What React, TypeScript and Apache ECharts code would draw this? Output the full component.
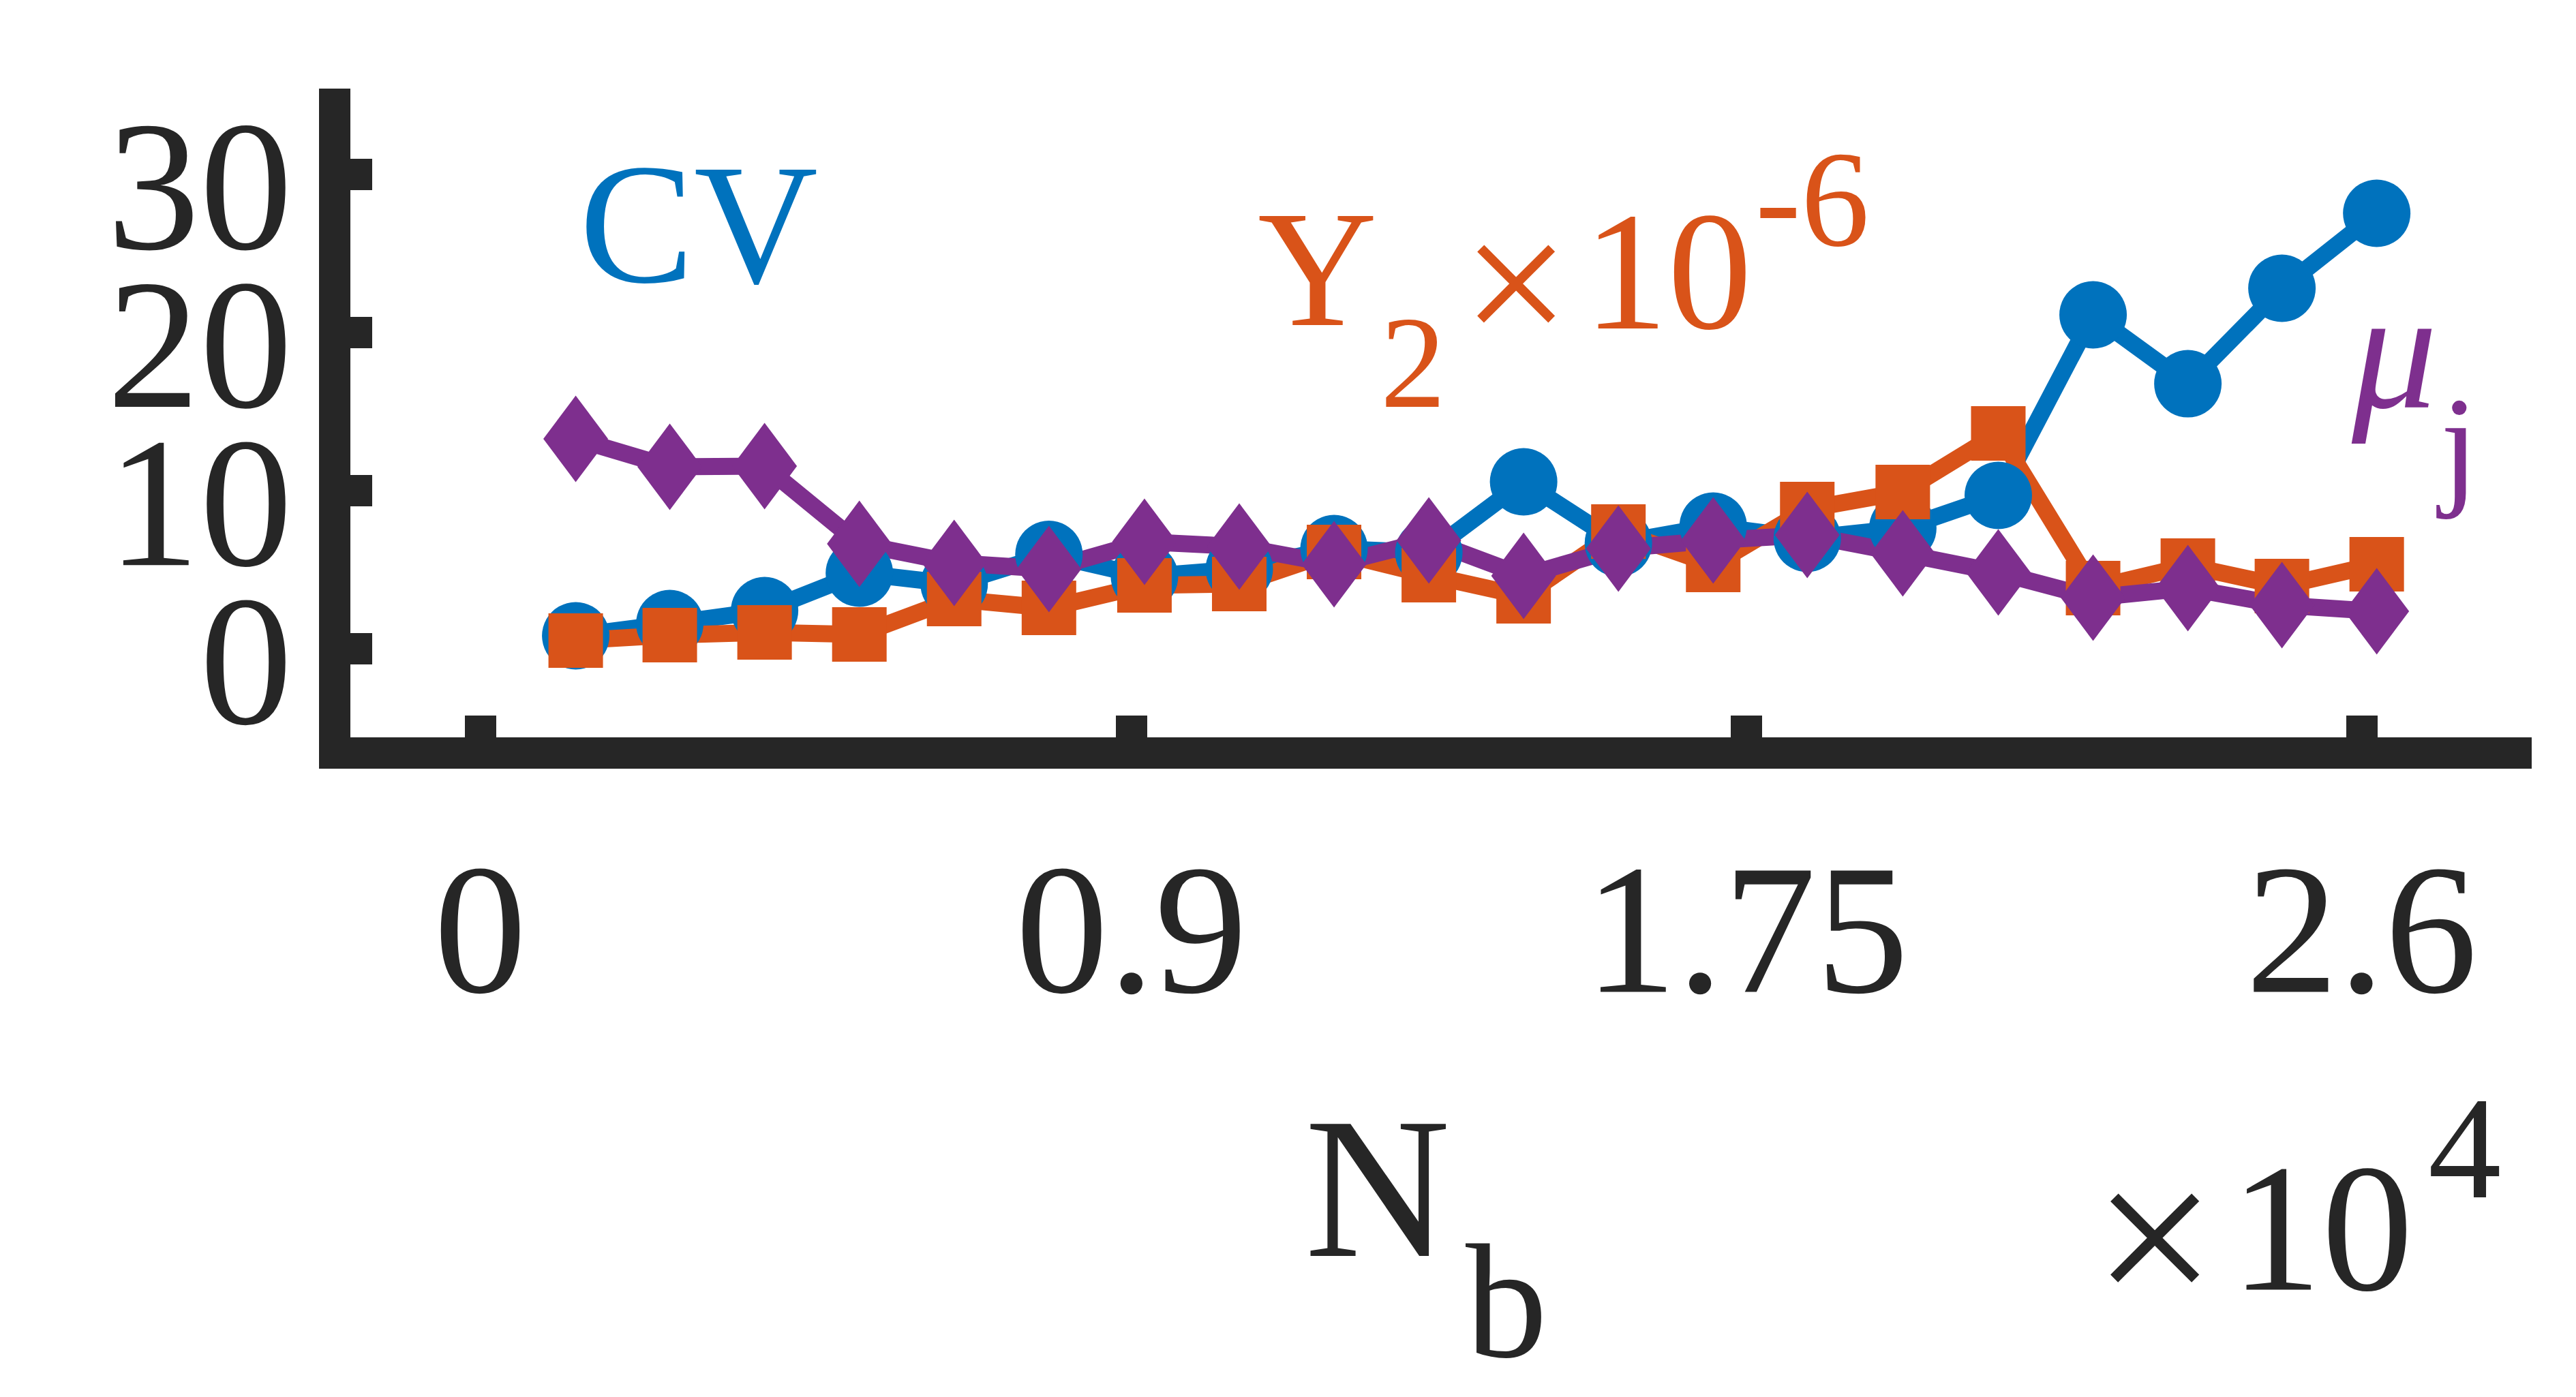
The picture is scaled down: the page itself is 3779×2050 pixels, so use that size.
import React, { useEffect, useRef } from "react";
import * as echarts from "echarts";

// N_b (x 10^4)
const nb = [0.132, 0.262, 0.393, 0.524, 0.655, 0.786, 0.918, 1.049, 1.18, 1.311, 1.442, 1.573, 1.704, 1.834, 1.966, 2.098, 2.229, 2.36, 2.49, 2.621];
const cvValues = [0.82, 1.59, 2.41, 4.78, 4.09, 5.96, 4.57, 5.04, 6.33, 6.07, 10.55, 6.68, 7.75, 6.98, 7.62, 9.69, 21.1, 16.75, 22.78, 27.52];
const y2Values = [0.52, 0.86, 1.03, 0.9, 3.14, 2.58, 4.01, 4.09, 6.12, 4.65, 3.32, 7.41, 5.3, 8.83, 9.91, 13.61, 3.83, 5.25, 3.96, 5.34];
const muValues = [13.26, 11.5, 11.54, 6.63, 5.43, 5.04, 6.76, 6.46, 5.34, 6.85, 4.61, 6.33, 6.85, 7.19, 6.03, 4.82, 3.23, 3.83, 2.76, 2.37];

const xTicks = [0, 0.9, 1.75, 2.6];
const xTickLabels = ["0", "0.9", "1.75", "2.6"];
// y ticks split over two overlaid axes so the large labels are never thinned out
const yTicksA = [0, 20];
const yTicksB = [10, 30];

const BLUE = "#0072BD";
const ORANGE = "#D95319";
const PURPLE = "#7E2F8E";
const AXIS = "#262626";
const FONT = "'Liberation Serif', 'Times New Roman', serif";

const Y_MIN = -6.589;
const Y_MAX = 34.41;

function pairs(xs: number[], ys: number[]) {
  return xs.map((x, i) => [x, ys[i]]);
}

function txt(text: string, x: number, y: number, fontSize: number, fill: string, extra: any = {}) {
  return {
    type: "text",
    x,
    y,
    z: 100,
    style: {
      text,
      fontSize,
      fontFamily: FONT,
      fill,
      align: "left",
      verticalAlign: "middle",
      ...extra,
    },
  };
}

function yAxisDef(ticks: number[]) {
  return {
    type: "value",
    position: "left",
    offset: 0,
    min: Y_MIN,
    max: Y_MAX,
    splitLine: { show: false },
    axisLine: { show: true, onZero: false, lineStyle: { color: AXIS, width: 46, cap: "square" } },
    axisTick: { show: true, inside: true, length: 55, customValues: ticks, lineStyle: { color: AXIS, width: 46, cap: "butt" } },
    axisLabel: {
      show: true,
      customValues: ticks,
      hideOverlap: false,
      showMinLabel: true,
      showMaxLabel: true,
      margin: 62,
      fontSize: 272,
      lineHeight: 36,
      verticalAlign: "top",
      fontFamily: FONT,
      color: AXIS,
      formatter: (v: number) => String(Math.round(v)),
    },
  };
}

export default function App() {
  const ref = useRef<HTMLDivElement>(null);
  useEffect(() => {
    if (!ref.current) return;
    const chart = echarts.init(ref.current, undefined, { renderer: "svg" });
    const lineCommon = (color: string) => ({
      type: "line",
      yAxisIndex: 0,
      lineStyle: { color, width: 25, join: "round" },
      itemStyle: { color, borderWidth: 0 },
      emphasis: { disabled: true },
      showSymbol: true,
    });
    chart.setOption({
      animation: false,
      backgroundColor: "#ffffff",
      grid: { left: 491, top: 153, right: 88, bottom: 945, containLabel: false },
      xAxis: {
        type: "value",
        min: -0.2011,
        max: 2.8135,
        splitLine: { show: false },
        axisLine: { show: true, onZero: false, lineStyle: { color: AXIS, width: 46, cap: "square" } },
        axisTick: { show: true, inside: true, length: 55, customValues: xTicks, lineStyle: { color: AXIS, width: 46, cap: "butt" } },
        axisLabel: {
          show: true,
          customValues: xTicks,
          hideOverlap: false,
          showMinLabel: true,
          showMaxLabel: true,
          margin: 123,
          fontSize: 272,
          lineHeight: 272,
          fontFamily: FONT,
          color: AXIS,
          formatter: (v: number) => {
            const i = xTicks.findIndex((t) => Math.abs(t - v) < 1e-9);
            return i >= 0 ? xTickLabels[i] : "";
          },
        },
      },
      yAxis: [yAxisDef(yTicksA), yAxisDef(yTicksB)],
      series: [
        { ...lineCommon(BLUE), name: "CV", symbol: "circle", symbolSize: 99, data: pairs(nb, cvValues) },
        { ...lineCommon(ORANGE), name: "Y2", symbol: "rect", symbolSize: 80, data: pairs(nb, y2Values) },
        { ...lineCommon(PURPLE), name: "mu", symbol: "diamond", symbolSize: [95, 127], data: pairs(nb, muValues) },
      ],
      graphic: [
        txt("CV", 850, 329, 252, BLUE),
        txt("Y", 1845, 395, 243, ORANGE),
        txt("2", 2025, 532, 192, ORANGE),
        txt("×", 2224, 415, 280, ORANGE, { align: "center" }),
        txt("10", 2323, 398, 247, ORANGE),
        txt("-6", 2575, 292, 201, ORANGE),
        txt("μ", 3450, 513, 250, PURPLE, { fontStyle: "italic" }),
        txt("j", 3580, 652, 200, PURPLE),
        txt("N", 1914, 1743, 296, AXIS),
        txt("b", 2150, 1910, 240, AXIS),
        txt("×", 3161, 1815, 320, AXIS, { align: "center" }),
        txt("10", 3272, 1802, 268, AXIS),
        txt("4", 3562, 1684, 215, AXIS),
      ],
    });
    return () => chart.dispose();
  }, []);
  return (
    <div
      ref={ref}
      style={{ position: "fixed", left: 0, top: 0, width: "3779px", height: "2050px", background: "#fff" }}
    />
  );
}
